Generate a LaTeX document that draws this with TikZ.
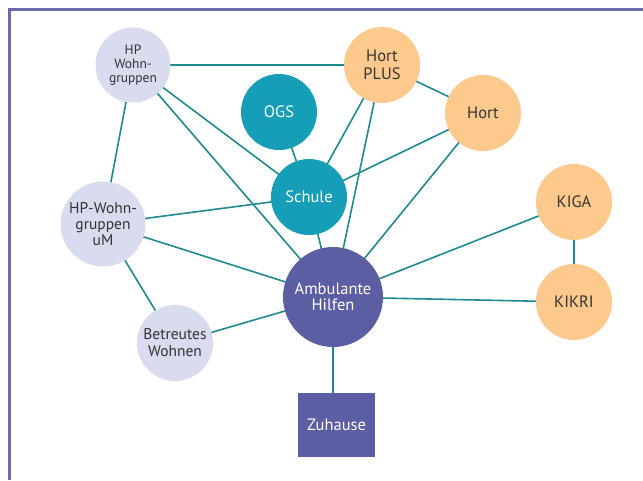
\documentclass[tikz,border=0pt]{standalone}
\usepackage{fontspec}
\setmainfont{PT Sans}
\usetikzlibrary{backgrounds}
\definecolor{lav}{HTML}{D8DCEE}
\definecolor{orng}{HTML}{FDC98C}
\definecolor{teal2}{HTML}{169EB8}
\definecolor{purp}{HTML}{5C5EA3}
\definecolor{edgec}{HTML}{1F8A8F}
\definecolor{framec}{HTML}{6A6AA8}
\definecolor{txt}{HTML}{333333}
\begin{document}
\begin{tikzpicture}[x=1pt,y=-1pt,
  lavnode/.style={circle,fill=lav,text=txt,minimum size=75pt,inner sep=0pt,align=center,font=\fontsize{13.5}{14}\selectfont},
  ornode/.style={circle,fill=orng,text=txt,minimum size=76pt,inner sep=0pt,align=center,font=\fontsize{16.5}{18}\selectfont},
  tnode/.style={circle,fill=teal2,text=white,minimum size=76pt,inner sep=0pt,align=center,font=\fontsize{16.5}{18}\selectfont},
  link/.style={draw=edgec,line width=1.6pt}]
\useasboundingbox (0,0) rectangle (643,480);
\draw[framec,line width=3pt] (9.5,480) -- (9.5,9.5) -- (643,9.5);

\node[lavnode] (hpw) at (133,65) {HP\\Wohn-\\gruppen};
\node[lavnode,minimum size=85pt,font=\fontsize{15.5}{16}\selectfont] (hpwum) at (103,224) {HP-Wohn-\\gruppen\\uM};
\node[lavnode,minimum size=76pt,font=\fontsize{15.5}{17}\selectfont] (bw) at (175,343) {Betreutes\\Wohnen};
\node[ornode] (hplus) at (382,65) {Hort\\PLUS};
\node[ornode] (hort) at (483,113) {Hort};
\node[ornode] (kiga) at (574,202) {KIGA};
\node[ornode] (kikri) at (574,302) {KIKRI};
\node[tnode] (ogs) at (279,112) {OGS};
\node[tnode] (schule) at (309,197) {Schule};
\node[circle,fill=purp,text=white,minimum size=100pt,inner sep=0pt,align=center,font=\fontsize{16.5}{16}\selectfont] (amb) at (333,297) {Ambulante\\Hilfen};
\node[rectangle,fill=purp,text=white,minimum width=77pt,minimum height=64pt,inner sep=0pt,font=\fontsize{16.5}{18}\selectfont] (zu) at (336.5,425) {Zuhause};

\begin{scope}[on background layer]
\path[link] (hpw.center) -- (hplus.center);
\path[link] (hpw.center) -- (hpwum.center);
\path[link] (hpw.center) -- (schule.center);
\path[link] (hpw.center) -- (amb.center);
\path[link] (hplus.center) -- (hort.center);
\path[link] (hplus.center) -- (schule.center);
\path[link] (hplus.center) -- (amb.center);
\path[link] (hort.center) -- (schule.center);
\path[link] (hort.center) -- (amb.center);
\path[link] (ogs.center) -- (schule.center);
\path[link] (schule.center) -- (hpwum.center);
\path[link] (schule.center) -- (amb.center);
\path[link] (hpwum.center) -- (amb.center);
\path[link] (hpwum.center) -- (bw.center);
\path[link] (bw.center) -- (amb.center);
\path[link] (amb.center) -- (kiga.center);
\path[link] (amb.center) -- (kikri.center);
\path[link] (kiga.center) -- (kikri.center);
\path[link] (amb.center) -- (amb.center |- zu.north);
\end{scope}
\end{tikzpicture}
\end{document}
